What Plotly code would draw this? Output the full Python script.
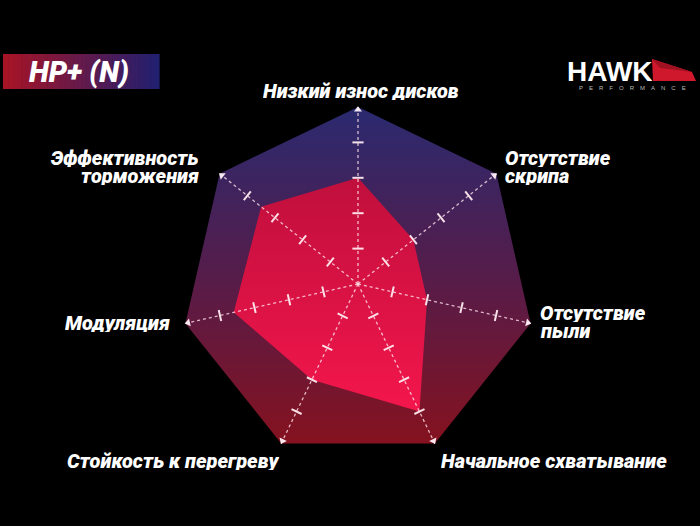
import numpy as np
import plotly.graph_objects as go

# ---------------- data ----------------
categories = ["Низкий износ дисков", "Отсутствие\nскрипа", "Отсутствие\nпыли",
              "Начальное схватывание", "Стойкость к перегреву", "Модуляция",
              "Эффективность\nторможения"]
values = [3, 2, 2, 4, 3, 3.6, 3.5]
scale_max = 5
tick_values = [1, 2, 3, 4]
title_text = "HP+ (N)"
brand = "HAWK"
brand_sub = "PERFORMANCE"

# ---------------- geometry of the canvas ----------------
W, H = 700, 526
CX, CY, S = 358, 284, 35.4          # centre pixel and pixels per unit
n = len(categories)
theta = np.arange(n) * 2 * np.pi / n
ang_deg = np.degrees(theta)

def xy(r, t):
    return r * np.sin(t), r * np.cos(t)

FONT = "Roboto, 'Liberation Sans', Arial, sans-serif"
fig = go.Figure()

# background heptagon
bx, by = xy(np.full(n + 1, scale_max), np.append(theta, theta[0]))
fig.add_trace(go.Scatter(x=bx, y=by, mode="lines", fill="toself", line=dict(width=0),
                         fillgradient=dict(type="vertical",
                                           colorscale=[[0, "#85121f"], [0.45, "#5a1b46"], [1, "#2a2a70"]]),
                         hoverinfo="skip", showlegend=False))

# data polygon
v = np.array(values + values[:1], dtype=float)
dx, dy = xy(v, np.append(theta, theta[0]))
fig.add_trace(go.Scatter(x=dx, y=dy, mode="lines", fill="toself", line=dict(width=0),
                         fillgradient=dict(type="vertical",
                                           colorscale=[[0, "#f3164c"], [1, "#c00f3c"]]),
                         hoverinfo="skip", showlegend=False))

# dotted axes
ax_x, ax_y = [], []
for t in theta:
    ex, ey = xy(scale_max, t)
    ax_x += [0, ex, None]
    ax_y += [0, ey, None]
fig.add_trace(go.Scatter(x=ax_x, y=ax_y, mode="lines",
                         line=dict(color="rgba(255,225,235,0.8)", width=1.3, dash="dot"),
                         hoverinfo="skip", showlegend=False))

# tick marks
tx, ty, ta = [], [], []
for t, a in zip(theta, ang_deg):
    for tv in tick_values:
        px_, py_ = xy(tv, t)
        tx.append(px_); ty.append(py_); ta.append(a)
fig.add_trace(go.Scatter(x=tx, y=ty, mode="markers",
                         marker=dict(symbol="line-ew", size=8, angle=ta,
                                     line=dict(color="rgba(255,235,240,0.95)", width=2)),
                         hoverinfo="skip", showlegend=False))

# arrow heads at the vertices
hx, hy = xy(np.full(n, scale_max - 0.08), theta)
fig.add_trace(go.Scatter(x=hx, y=hy, mode="markers",
                         marker=dict(symbol="triangle-up", size=7, angle=list(ang_deg),
                                     color="rgba(255,240,245,0.95)", line=dict(width=0)),
                         hoverinfo="skip", showlegend=False))

# category labels: (xanchor, yanchor, xshift, yshift)
label_pos = [("center", "bottom", 3, 5),
             ("left", "middle", 7, 7),
             ("left", "middle", 7, 1),
             ("left", "top", 4, -7),
             ("right", "top", 0, -7),
             ("right", "middle", -13, 0),
             ("right", "middle", -19, 7)]
LINE = 18
for cat, t, (xa, ya, xs, ys) in zip(categories, theta, label_pos):
    lines = cat.split("\n")
    vx, vy = xy(scale_max, t)
    for i, ln in enumerate(lines):
        off = (len(lines) - 1) / 2 - i
        fig.add_annotation(x=vx, y=vy, text=ln, showarrow=False, xanchor=xa, yanchor=ya,
                           xshift=xs, yshift=ys + off * LINE, height=18,
                           font=dict(family=FONT, size=20, color="white",
                                     weight=900, style="italic"))

# ---------------- title box (decoration) ----------------
def px(xp): return xp / W
def py(yp): return 1 - yp / H

x0, x1, y0, y1 = 3, 159, 54, 89
nseg = 60
c0 = np.array([168, 20, 38]); c1 = np.array([34, 32, 112])
shapes = []
for i in range(nseg):
    f = i / (nseg - 1)
    c = (c0 * (1 - f) + c1 * f).astype(int)
    xa_ = x0 + (x1 - x0) * i / nseg
    xb_ = x0 + (x1 - x0) * (i + 1) / nseg + 0.6
    shapes.append(dict(type="rect", xref="paper", yref="paper", x0=px(xa_), x1=px(xb_),
                       y0=py(y1), y1=py(y0), line=dict(width=0),
                       fillcolor=f"rgb({c[0]},{c[1]},{c[2]})", layer="above"))

# HAWK wedge
wedge = "M {} {} L {} {} L {} {} L {} {} Z".format(px(652), py(59), px(692), py(72),
                                                   px(696), py(81), px(653), py(81))
shapes.append(dict(type="path", xref="paper", yref="paper", path=wedge,
                   fillcolor="#d0182c", line=dict(width=0), layer="above"))
fold = "M {} {} L {} {} L {} {} Z".format(px(652), py(59), px(692), py(72), px(660), py(68))
shapes.append(dict(type="path", xref="paper", yref="paper", path=fold,
                   fillcolor="#a01222", line=dict(width=0), layer="above"))

fig.add_annotation(xref="paper", yref="paper", x=px(79), y=py(72), text=title_text,
                   showarrow=False, xanchor="center", yanchor="middle",
                   font=dict(family=FONT, size=29, color="white", weight=900, style="italic"))
fig.add_annotation(xref="paper", yref="paper", x=px(610), y=py(71), text=brand,
                   showarrow=False, xanchor="center", yanchor="middle",
                   font=dict(family="'Liberation Sans', Arial, sans-serif", size=28,
                             color="white", weight="bold"))
fig.add_annotation(xref="paper", yref="paper", x=px(632), y=py(88),
                   text="\u2002\u2002".join(brand_sub),
                   showarrow=False, xanchor="center", yanchor="middle",
                   font=dict(family="'Liberation Sans', Arial, sans-serif", size=6,
                             color="#bbbbbb"))

fig.update_layout(
    width=W, height=H, autosize=False,
    margin=dict(l=0, r=0, t=0, b=0),
    paper_bgcolor="black", plot_bgcolor="black",
    shapes=shapes,
    xaxis=dict(range=[-CX / S, (W - CX) / S], visible=False, fixedrange=True),
    yaxis=dict(range=[-(H - CY) / S, CY / S], visible=False, fixedrange=True),
    showlegend=False,
)

fig.write_html("out.html", config={"displayModeBar": False},
               post_script="document.body.style.margin='0';document.body.style.background='black';")
